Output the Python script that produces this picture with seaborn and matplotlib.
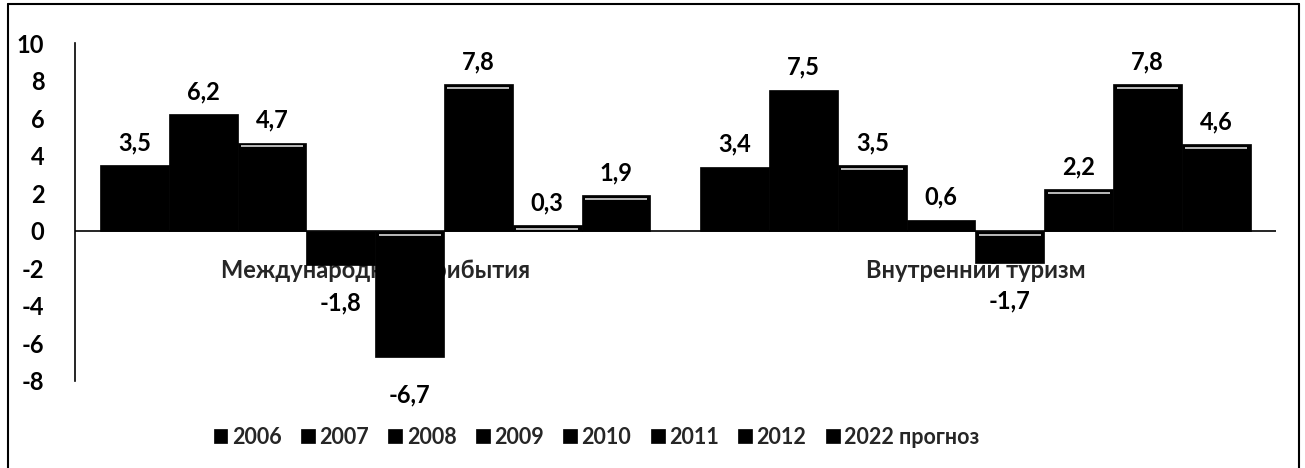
import pandas as pd
import seaborn as sns
import matplotlib.pyplot as plt
from matplotlib.lines import Line2D

sns.set_theme(style='white')
plt.rcParams['font.family'] = ['Lato', 'DejaVu Sans']

# data
groups = ['Международные прибытия', 'Внутренний туризм']
years = ['2006', '2007', '2008', '2009', '2010', '2011', '2012', '2022 прогноз']
intl_values = [3.5, 6.2, 4.7, -1.8, -6.7, 7.8, 0.3, 1.9]
dom_values = [3.4, 7.5, 3.5, 0.6, -1.7, 2.2, 7.8, 4.6]
y_ticks = [10, 8, 6, 4, 2, 0, -2, -4, -6, -8]

rows = []
for g, vals in zip(groups, [intl_values, dom_values]):
    for yr, v in zip(years, vals):
        rows.append({'group': g, 'year': yr, 'value': v})
df = pd.DataFrame(rows)

FS = 17
fig = plt.figure(figsize=(13.05, 4.68), dpi=100)
ax = fig.add_axes([0.0575, 0.186, 0.92, 0.722])

sns.barplot(data=df, x='group', y='value', hue='year', order=groups,
            hue_order=years, palette=['black'] * len(years), width=0.917,
            gap=0, saturation=1, errorbar=None, ax=ax, zorder=3,
            edgecolor='black', linewidth=0.5)

# light bevel stripe on top of some bars
bevel = {'2008', '2010', '2011', '2012', '2022 прогноз'}
for cont, yr in zip(ax.containers, years):
    for p in cont.patches:
        if yr in bevel:
            x0 = p.get_x() + p.get_width() * 0.05
            x1 = p.get_x() + p.get_width() * 0.95
            top = p.get_y() + p.get_height() if p.get_height() >= 0 else p.get_y()
            ax.plot([x0, x1], [top - 0.2, top - 0.2], color='#c8c8c8',
                    lw=1.3, zorder=4, solid_capstyle='butt')
    pos = [v >= 0 for v in cont.datavalues]
    lab_pos = [f'{v:.1f}'.replace('.', ',') if ok else ''
               for v, ok in zip(cont.datavalues, pos)]
    lab_neg = [f'{v:.1f}'.replace('.', ',') if not ok else ''
               for v, ok in zip(cont.datavalues, pos)]
    ax.bar_label(cont, labels=lab_pos, padding=8, fontsize=FS,
                 fontweight='bold', color='black')
    ax.bar_label(cont, labels=lab_neg, padding=19, fontsize=FS,
                 fontweight='bold', color='black')

ax.set_ylim(-8, 10)
ax.set_xlim(-0.5, 1.5)
ax.set_yticks(y_ticks)
ax.set_yticklabels([str(t) for t in y_ticks], fontsize=FS, fontweight='bold')
ax.tick_params(axis='y', length=0, pad=22, colors='black')
ax.set_xticks([])
ax.set_xlabel('')
ax.set_ylabel('')
for s in ['top', 'right', 'bottom']:
    ax.spines[s].set_visible(False)
ax.spines['left'].set_color('black')
ax.spines['left'].set_linewidth(1.2)
ax.axhline(0, color='black', lw=1.2, zorder=2)

# group labels sit under the bars
for i, g in enumerate(groups):
    ax.text(i, -2.1, g, ha='center', va='center', fontsize=FS,
            fontweight='bold', zorder=1)

handles, labels = ax.get_legend_handles_labels()
ax.get_legend().remove()
fig.legend(handles, labels, loc='center', bbox_to_anchor=(0.457, 0.066),
           ncol=8, frameon=False, handlelength=0.65, handleheight=0.65,
           handletextpad=0.2, columnspacing=0.9,
           prop={'size': 15.5, 'weight': 'bold'})

# outer frame
W, H = 1305, 468
fig.add_artist(Line2D([8 / W, 8 / W], [0, 1 - 4 / H], color='black', lw=1.5,
                      transform=fig.transFigure))
fig.add_artist(Line2D([8 / W, 1299 / W], [1 - 4 / H, 1 - 4 / H], color='black',
                      lw=1.5, transform=fig.transFigure))
fig.add_artist(Line2D([1299 / W, 1299 / W], [0, 1 - 4 / H], color='black',
                      lw=1.5, transform=fig.transFigure))

fig.savefig('out.png', dpi=100)
